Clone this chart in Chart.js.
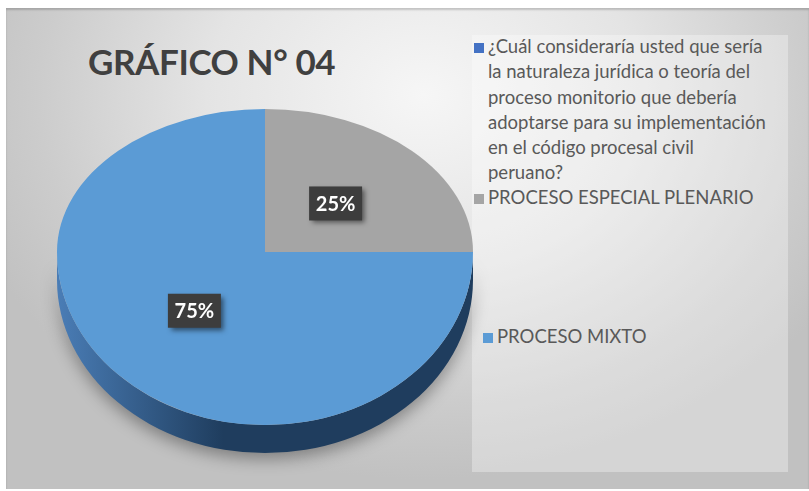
<!DOCTYPE html>
<html lang="es">
<head>
<meta charset="utf-8">
<title>GRÁFICO N° 04</title>
<script src="https://cdn.jsdelivr.net/npm/chart.js@4.4.0/dist/chart.umd.min.js"></script>
<style>
  body { margin: 0; background: #fff; width: 809px; height: 491px; overflow: hidden; position: relative; font-family: Lato, 'Open Sans', sans-serif; }
  #frame {
    position: absolute; left: 6px; top: 8px; width: 803px; height: 481px;
    background: radial-gradient(ellipse 60% 80% at 52% 18%, #f6f6f6 0%, #e4e4e4 45%, #cccccc 80%, #c1c1c1 100%);
    box-shadow: inset 0 2px 2px rgba(0,0,0,.18);
  }
  #title {
    position: absolute; left: 88px; top: 44px; margin: 0;
    font: 700 35px/35px Lato, sans-serif; color: #404040; white-space: nowrap; letter-spacing: -0.4px;
  }
  #legendBox {
    position: absolute; left: 472px; top: 35px; width: 316px; height: 437px;
    background: rgba(255,255,255,.32);
  }
  .item { position: absolute; left: 15px; width: 281px; font-size: 18.5px; line-height: 25.3px; color: #595959; }
  .item .mk { position: absolute; left: -14px; top: 9px; width: 10px; height: 10px; }
  canvas { position: absolute; left: 0; top: 0; }
</style>
</head>
<body>
<div id="frame"></div>
<h1 id="title">GRÁFICO N° 04</h1>
<div id="legendBox"></div>
<canvas id="pie" width="809" height="491"></canvas>

<script>
// datos del gráfico
const categories = [
  '¿Cuál consideraría usted que sería la naturaleza jurídica o teoría del proceso monitorio que debería adoptarse para su implementación en el código procesal civil peruano?',
  'PROCESO ESPECIAL PLENARIO',
  'PROCESO MIXTO',
];
const percents = [0, 25, 75];

const sliceColors = ['#4472C4', '#A5A5A5', '#5B9BD5'];
const sideStops   = [['#3a62a8', '#22396a'], ['#8a8a8a', '#5e5e5e'], ['#4a7db6', '#1f3d5e']];

// "perspectiva": mitad superior más aplanada que la inferior
const TILT_TOP = 0.6875;
const TILT_BOTTOM = 0.832;
const DEPTH = 28;

// leyenda en HTML (tops a mano para calzar con la imagen)
const legendTops = [-1, 150, 289];
const legendShift = [0, 0, 9];
const box = document.getElementById('legendBox');
categories.forEach((c, i) => {
  const d = document.createElement('div');
  d.className = 'item';
  d.style.top = legendTops[i] + 'px';
  d.style.left = (16 + legendShift[i]) + 'px';
  d.innerHTML = '<span class="mk" style="background:' + sliceColors[i] + '"></span>';
  d.appendChild(document.createTextNode(c));
  box.appendChild(d);
});

const pie3d = {
  id: 'pie3d',
  beforeDatasetsDraw(chart) {
    const ctx = chart.ctx;
    const arcs = chart.getDatasetMeta(0).data;
    const { x: cx, y: cy, outerRadius: R } = arcs[0];

    // lateral del cilindro, sólo la parte frontal (0..PI)
    arcs.forEach((a, i) => {
      const s = Math.max(a.startAngle, 0), e = Math.min(a.endAngle, Math.PI);
      if (e <= s) return;
      const g = ctx.createLinearGradient(cx - R, 0, cx + R, 0);
      g.addColorStop(0, sideStops[i][0]);
      g.addColorStop(0.4, sideStops[i][1]);
      g.addColorStop(1, sideStops[i][1]);
      ctx.save();
      ctx.shadowColor = 'rgba(0,0,0,.35)';
      ctx.shadowBlur = 16;
      ctx.shadowOffsetY = 6;
      ctx.beginPath();
      ctx.ellipse(cx, cy + DEPTH, R, R * TILT_BOTTOM, 0, s, e);
      ctx.ellipse(cx, cy, R, R * TILT_BOTTOM, 0, e, s, true);
      ctx.closePath();
      ctx.fillStyle = g;
      ctx.fill();
      ctx.restore();
    });

    // cara superior: dos medias elipses
    [[0, cy, TILT_TOP], [cy, chart.height - cy, TILT_BOTTOM]].forEach(([y0, h, k]) => {
      ctx.save();
      ctx.beginPath();
      ctx.rect(0, y0, chart.width, h + 0.5);
      ctx.clip();
      ctx.translate(cx, cy);
      ctx.scale(1, k);
      ctx.translate(-cx, -cy);
      arcs.forEach(a => a.draw(ctx));
      ctx.restore();
    });
    return false;
  },
  afterDraw(chart) {
    const ctx = chart.ctx;
    const arcs = chart.getDatasetMeta(0).data;
    const vals = chart.data.datasets[0].data;
    const total = vals.reduce((p, v) => p + v, 0);
    arcs.forEach((a, i) => {
      if (!vals[i]) return;
      const mid = (a.startAngle + a.endAngle) / 2;
      const rho = a.outerRadius * 0.48;
      const k = Math.sin(mid) < 0 ? TILT_TOP : TILT_BOTTOM;
      const px = a.x + rho * Math.cos(mid);
      const py = a.y + rho * Math.sin(mid) * k;
      const txt = Math.round(vals[i] / total * 100) + '%';
      ctx.save();
      ctx.shadowColor = 'rgba(0,0,0,.5)';
      ctx.shadowBlur = 5;
      ctx.shadowOffsetX = 3;
      ctx.shadowOffsetY = 3;
      ctx.fillStyle = '#3d3d3d';
      ctx.fillRect(px - 26.5, py - 17, 53, 34);
      ctx.restore();
      ctx.fillStyle = '#fff';
      ctx.font = 'bold 20px Lato, sans-serif';
      ctx.textAlign = 'center';
      ctx.textBaseline = 'middle';
      ctx.fillText(txt, px, py + 1);
    });
  },
};

new Chart(document.getElementById('pie'), {
  type: 'pie',
  data: {
    labels: categories,
    datasets: [{ data: percents, backgroundColor: sliceColors, borderWidth: 0 }],
  },
  options: {
    responsive: false,
    animation: false,
    layout: { padding: { left: 57, right: 336, top: 44, bottom: 31 } },
    plugins: { legend: { display: false }, tooltip: { enabled: false } },
  },
  plugins: [pie3d],
});
</script>
</body>
</html>
